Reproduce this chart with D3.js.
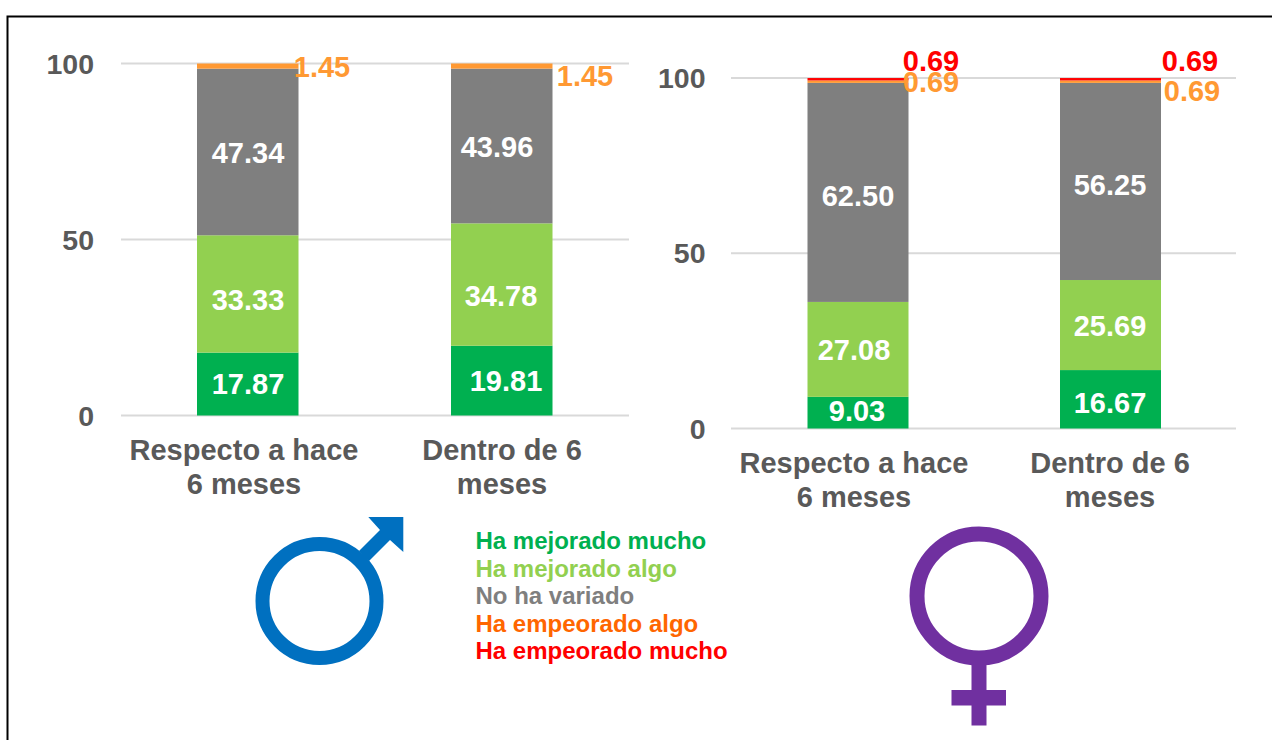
<!DOCTYPE html>
<html><head><meta charset="utf-8">
<script src="https://cdn.jsdelivr.net/npm/d3@7"></script>
<style>html,body{margin:0;padding:0;background:#fff}svg{display:block}text{font-family:"Liberation Sans",Arial,sans-serif;font-weight:bold}</style>
</head><body><svg id="c" width="1272" height="740"></svg>
<script>
const categories = [["Respecto a hace","6 meses"],["Dentro de 6","meses"]];
const seriesNames = ["Ha mejorado mucho","Ha mejorado algo","No ha variado","Ha empeorado algo","Ha empeorado mucho"];
const hombresMucho = [17.87,19.81];
const hombresAlgo = [33.33,34.78];
const hombresIgual = [47.34,43.96];
const hombresPeorAlgo = [1.45,1.45];
const hombresPeorMucho = [0,0];
const mujeresMucho = [9.03,16.67];
const mujeresAlgo = [27.08,25.69];
const mujeresIgual = [62.50,56.25];
const mujeresPeorAlgo = [0.69,0.69];
const mujeresPeorMucho = [0.69,0.69];
const yTicks = [0,50,100];

const barColors = ["#00b050","#92d050","#7f7f7f","#ff9933","#ff0000"];
const legendColors = ["#00b050","#92d050","#7f7f7f","#ff6600","#ff0000"];
const labelColors = ["#fff","#fff","#fff","#ff9933","#ff0000"];
const svg = d3.select("#c");

svg.append("path").attr("d","M7.5,740V16.5H1272").attr("fill","none").attr("stroke","#000").attr("stroke-width",2);

function panel(cfg){
  const y = d3.scaleLinear().domain([0,100]).range([cfg.y0,cfg.y100]);
  const g = svg.append("g");
  g.selectAll("line.grid").data(yTicks).join("line")
    .attr("x1",cfg.x0).attr("x2",cfg.x1).attr("y1",d=>y(d)).attr("y2",d=>y(d))
    .attr("stroke","#d9d9d9").attr("stroke-width",2);
  g.selectAll("text.tick").data(yTicks).join("text")
    .attr("x",cfg.tickX).attr("y",d=>y(d)+10).attr("text-anchor","end")
    .attr("font-size",28.5).attr("fill","#595959").text(d=>d);
  const keys = d3.range(5);
  const rows = [0,1].map(i=>{const r={i};keys.forEach(k=>r[k]=cfg.series[k][i]);return r;});
  const stack = d3.stack().keys(keys)(rows);
  stack.forEach((s,k)=>{
    g.selectAll(null).data(s).join("rect")
      .attr("x",d=>cfg.barX[d.data.i]).attr("width",cfg.barW)
      .attr("y",d=>y(d[1])).attr("height",d=>y(d[0])-y(d[1]))
      .attr("fill",barColors[k]);
  });
  stack.forEach((s,k)=>{
    g.selectAll(null).data(s.filter(d=>d.data[k]>0)).join("text")
      .attr("x",d=>cfg.lab[d.data.i][k][0]).attr("y",d=>cfg.lab[d.data.i][k][1]+10)
      .attr("text-anchor","middle").attr("font-size",29)
      .attr("fill",labelColors[k]).text(d=>d.data[k].toFixed(2));
  });
  categories.forEach((c,i)=>c.forEach((t,j)=>{
    g.append("text").attr("x",cfg.catX[i]).attr("y",cfg.catY+j*34)
      .attr("text-anchor","middle").attr("font-size",29).attr("fill","#595959").text(t);
  }));
}

panel({y0:415.5,y100:63.5,x0:121,x1:629,tickX:94,barX:[197,451],barW:101.5,catX:[244,502],catY:460,
  series:[hombresMucho,hombresAlgo,hombresIgual,hombresPeorAlgo,hombresPeorMucho],
  lab:[[[248,384],[248,300],[248,153],[322,67],[0,0]],[[506,381],[501,296],[497,147],[585,76],[0,0]]]});
panel({y0:428.5,y100:78,x0:731,x1:1236,tickX:705.5,barX:[807.5,1060],barW:101,catX:[854,1110],catY:473,
  series:[mujeresMucho,mujeresAlgo,mujeresIgual,mujeresPeorAlgo,mujeresPeorMucho],
  lab:[[[857,411],[854,350],[858,196],[931,82],[931,61]],[[1110,403],[1110,326],[1110,185],[1192,91],[1190,61]]]});

svg.selectAll("text.leg").data(seriesNames).join("text")
  .attr("x",475.5).attr("y",(d,i)=>549+i*27.5).attr("font-size",24)
  .attr("fill",(d,i)=>legendColors[i]).text(d=>d);

// male symbol
const mg = svg.append("g");
mg.append("circle").attr("cx",319.5).attr("cy",601).attr("r",57).attr("fill","none").attr("stroke","#0070c0").attr("stroke-width",14);
mg.append("path").attr("fill","#0070c0").attr("d","M359,551L380,530L368.3,517H403.3V552L390,540L369,561Z");
// female symbol
const fg = svg.append("g");
fg.append("circle").attr("cx",979).attr("cy",596).attr("r",62).attr("fill","none").attr("stroke","#7030a0").attr("stroke-width",15);
fg.append("path").attr("fill","#7030a0").attr("d","M971.5,660H986.5V690H1006V705.5H986.5V725.5H971.5V705.5H951.5V690H971.5Z");
</script></body></html>
